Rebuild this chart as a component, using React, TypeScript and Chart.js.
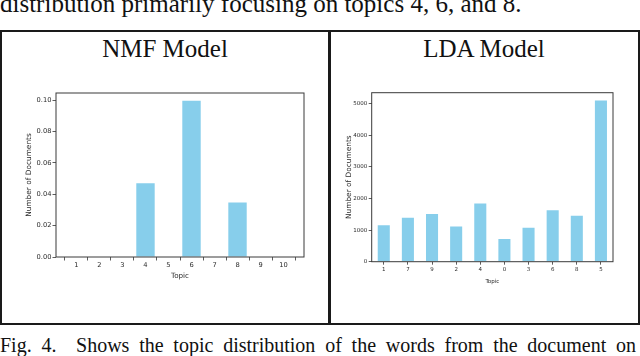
import React, { useEffect, useRef } from "react";
import { Chart, registerables } from "chart.js";
Chart.register(...registerables);

// ---- data ----
const nmfTopics = [1, 2, 3, 4, 5, 6, 7, 8, 9, 10];
const nmfValues = [0, 0, 0, 0.047, 0, 0.0996, 0, 0.0348, 0, 0];
const nmfYTicks = [0, 0.02, 0.04, 0.06, 0.08, 0.1];

const ldaTopics = ["1", "7", "9", "2", "4", "0", "3", "6", "8", "5"];
const ldaValues = [1150, 1390, 1505, 1115, 1840, 715, 1075, 1630, 1450, 5095];
const ldaYTicks = [0, 1000, 2000, 3000, 4000, 5000];

const topText = "distribution primarily focusing on topics 4, 6, and 8.";
const captionText = "Fig. 4.\u00a0\u00a0Shows the topic distribution of the words from the document on";
const panelTitles = ["NMF Model", "LDA Model"];

const BAR = "#87CEEB";
const INK = "#2a2a2a";
const FONT = "'DejaVu Sans', sans-serif";

const spines = {
  id: "spines",
  afterDatasetsDraw(chart: any) {
    const { ctx, chartArea: a } = chart;
    ctx.save();
    ctx.strokeStyle = "#3a3a3a";
    ctx.lineWidth = 1;
    ctx.strokeRect(a.left, a.top, a.right - a.left, a.bottom - a.top);
    ctx.restore();
  },
};

function gridTicks(len: number) {
  return {
    display: true,
    drawOnChartArea: false,
    drawTicks: true,
    tickLength: len,
    color: "#333",
    lineWidth: 0.8,
  };
}

export default function App() {
  const nmfRef = useRef<HTMLCanvasElement | null>(null);
  const ldaRef = useRef<HTMLCanvasElement | null>(null);

  useEffect(() => {
    const nmf = new Chart(nmfRef.current as HTMLCanvasElement, {
      type: "bar",
      data: {
        datasets: [
          {
            data: nmfTopics.map((t, i) => ({ x: t, y: nmfValues[i] })),
            backgroundColor: BAR,
            borderWidth: 0,
            barPercentage: 0.8,
            categoryPercentage: 1,
          },
        ],
      },
      options: {
        responsive: false,
        animation: false,
        devicePixelRatio: 1,
        layout: { padding: { left: 0, top: 8, right: 16, bottom: 0 } },
        plugins: { legend: { display: false }, tooltip: { enabled: false } },
        scales: {
          x: {
            type: "linear",
            offset: false,
            min: 0.11,
            max: 10.89,
            afterBuildTicks: (s: any) => {
              s.ticks = nmfTopics.map((v) => ({ value: v }));
            },
            afterFit: (s: any) => {
              s.height = 28;
            },
            grid: gridTicks(3.5),
            border: { display: false },
            ticks: {
              autoSkip: false,
              maxRotation: 0,
              padding: 1,
              color: INK,
              font: { family: FONT, size: 6.7 },
              callback: (v: any) => String(v),
            },
            title: {
              display: true,
              text: "Topic",
              color: INK,
              font: { family: FONT, size: 7.2 },
              padding: { top: 0, bottom: 4.6 },
            },
          },
          y: {
            type: "linear",
            min: 0,
            max: 0.1045,
            afterBuildTicks: (s: any) => {
              s.ticks = nmfYTicks.map((v) => ({ value: v }));
            },
            afterFit: (s: any) => {
              s.width = 56;
            },
            grid: gridTicks(3.5),
            border: { display: false },
            ticks: {
              padding: 1,
              color: INK,
              font: { family: FONT, size: 6.7 },
              callback: (v: any) => Number(v).toFixed(2),
            },
            title: {
              display: true,
              text: "Number of Documents",
              color: INK,
              font: { family: FONT, size: 7.4 },
              padding: { top: 24.5, bottom: 0 },
            },
          },
        },
      } as any,
      plugins: [spines],
    });

    const lda = new Chart(ldaRef.current as HTMLCanvasElement, {
      type: "bar",
      data: {
        labels: ldaTopics,
        datasets: [
          {
            data: ldaValues,
            backgroundColor: BAR,
            borderWidth: 0,
            barPercentage: 0.5,
            categoryPercentage: 1,
          },
        ],
      },
      options: {
        responsive: false,
        animation: false,
        devicePixelRatio: 1,
        layout: { padding: { left: 0, top: 7.7, right: 23, bottom: 0 } },
        plugins: { legend: { display: false }, tooltip: { enabled: false } },
        scales: {
          x: {
            type: "category",
            offset: true,
            afterFit: (s: any) => {
              s.height = 28.3;
            },
            grid: { ...gridTicks(3), offset: false },
            border: { display: false },
            ticks: {
              autoSkip: false,
              maxRotation: 0,
              padding: 2,
              color: INK,
              font: { family: FONT, size: 5.5 },
            },
            title: {
              display: true,
              text: "Topic",
              color: INK,
              font: { family: FONT, size: 5.5 },
              padding: { top: 0, bottom: 5.5 },
            },
          },
          y: {
            type: "linear",
            min: 0,
            max: 5345,
            afterBuildTicks: (s: any) => {
              s.ticks = ldaYTicks.map((v) => ({ value: v }));
            },
            afterFit: (s: any) => {
              s.width = 41.7;
            },
            grid: gridTicks(3),
            border: { display: false },
            ticks: {
              padding: 1.5,
              color: INK,
              font: { family: FONT, size: 5.5 },
              callback: (v: any) => String(v),
            },
            title: {
              display: true,
              text: "Number of Documents",
              color: INK,
              font: { family: FONT, size: 7.4 },
              padding: { top: 15, bottom: 0 },
            },
          },
        },
      } as any,
      plugins: [spines],
    });

    return () => {
      nmf.destroy();
      lda.destroy();
    };
  }, []);

  const serif = "'Liberation Serif', 'Times New Roman', serif";
  const line = "#1a1a1a";

  return (
    <div
      style={{
        position: "fixed",
        left: 0,
        top: 0,
        width: 640,
        height: 356,
        background: "#fff",
        overflow: "hidden",
      }}
    >
      <div
        style={{
          position: "absolute",
          left: 0,
          top: -9,
          fontFamily: serif,
          fontSize: 25,
          lineHeight: 1,
          whiteSpace: "nowrap",
          color: "#111",
        }}
      >
        {topText}
      </div>

      <div
        style={{
          position: "absolute",
          left: 0,
          top: 30,
          width: 640,
          height: 295,
          boxSizing: "border-box",
          border: `2px solid ${line}`,
        }}
      />
      <div
        style={{
          position: "absolute",
          left: 328,
          top: 30,
          width: 2.5,
          height: 295,
          background: line,
        }}
      />

      <div
        style={{
          position: "absolute",
          left: 2,
          width: 326,
          top: 36,
          textAlign: "center",
          fontFamily: serif,
          fontSize: 25,
          lineHeight: 1,
          color: "#111",
        }}
      >
        {panelTitles[0]}
      </div>
      <div
        style={{
          position: "absolute",
          left: 330,
          width: 308,
          top: 36,
          textAlign: "center",
          fontFamily: serif,
          fontSize: 25,
          lineHeight: 1,
          color: "#111",
        }}
      >
        {panelTitles[1]}
      </div>

      <canvas
        ref={nmfRef}
        width={320}
        height={200}
        style={{ position: "absolute", left: 0, top: 85, width: 320, height: 200 }}
      />
      <canvas
        ref={ldaRef}
        width={306}
        height={205}
        style={{ position: "absolute", left: 330, top: 85, width: 306, height: 205 }}
      />

      <div
        style={{
          position: "absolute",
          left: 0,
          top: 335.25,
          width: 636,
          fontFamily: serif,
          fontSize: 20,
          lineHeight: 1,
          textAlign: "justify",
          textAlignLast: "justify" as any,
          color: "#111",
        }}
      >
        {captionText}
      </div>
    </div>
  );
}
